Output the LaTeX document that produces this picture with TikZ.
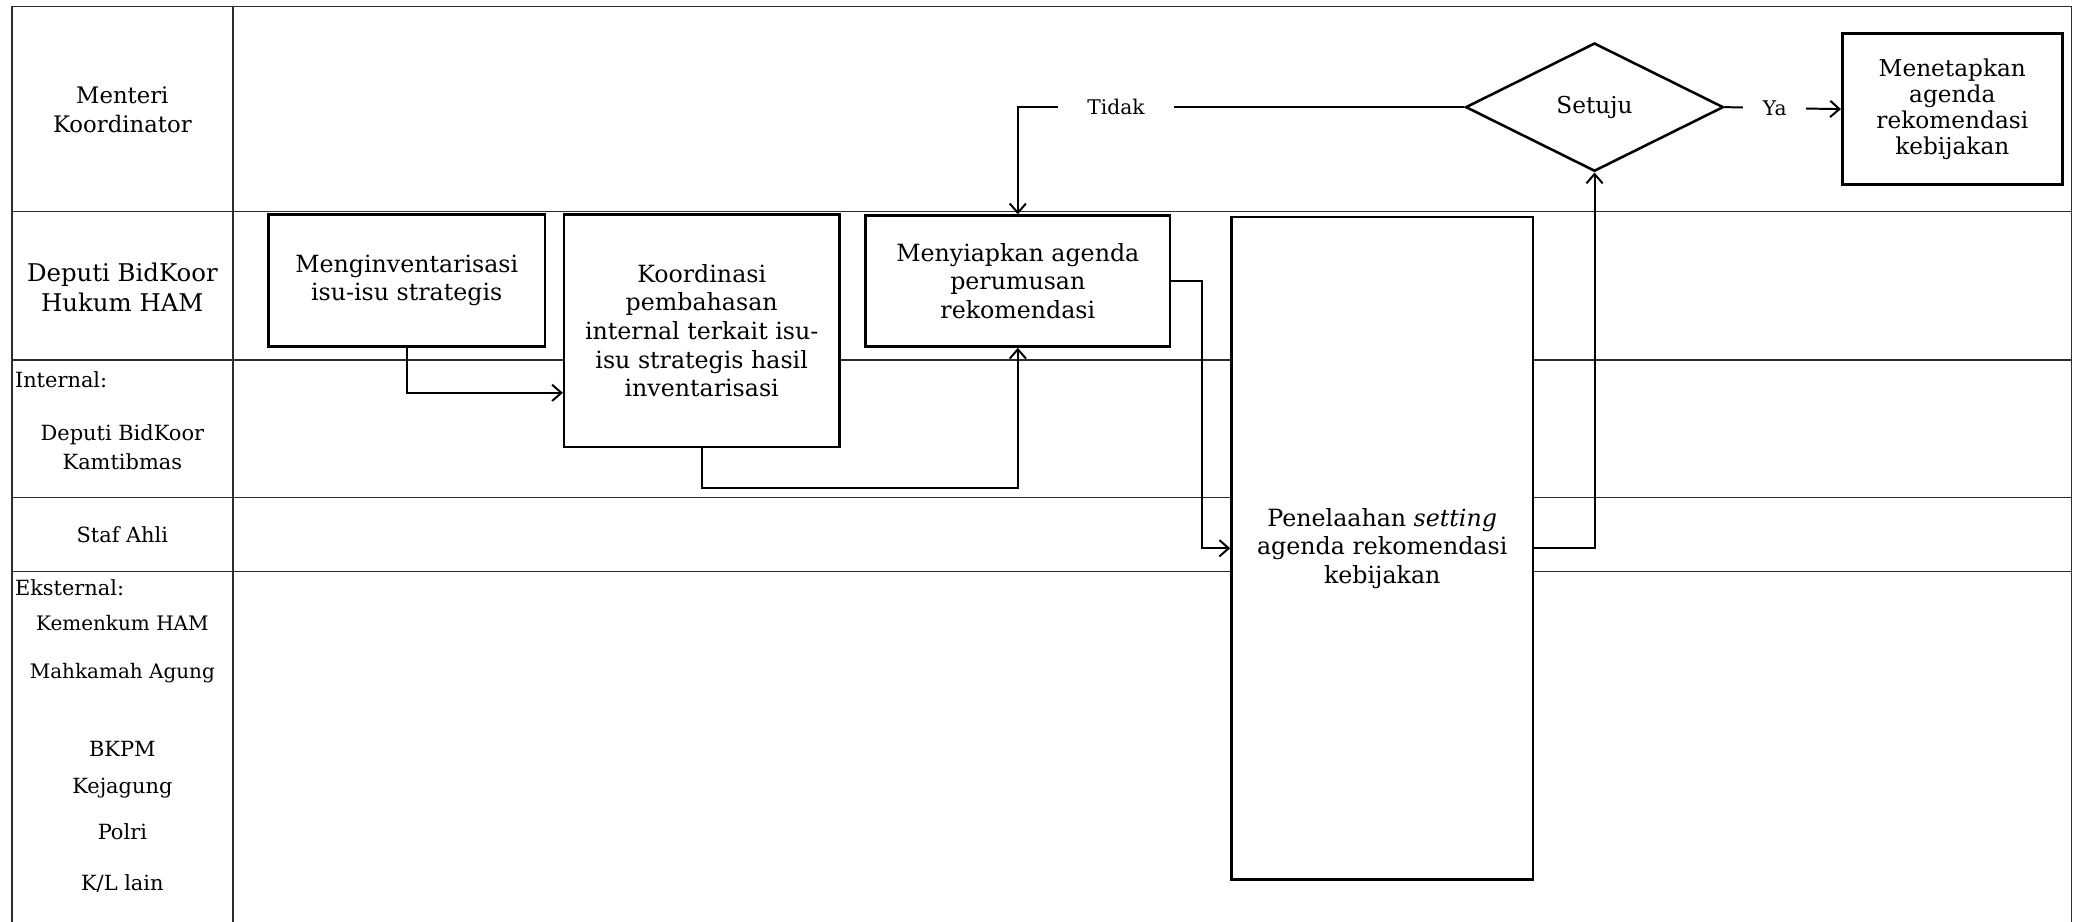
\documentclass[tikz,border=0pt]{standalone}
\usepackage{fontspec}
\setmainfont{DejaVu Serif}
\usetikzlibrary{positioning, arrows.meta, shapes.geometric}
\definecolor{abuGelap}{RGB}{45, 45, 45}

\begin{document}
\begin{tikzpicture}[x=0.02cm, y=-0.02cm,
    garis/.style={draw=abuGelap, line width=0.7pt},
    proses/.style={draw=black, line width=1.1pt, fill=white, align=center, inner sep=1pt, font=\fontsize{10.2}{12.3}\selectfont},
    keputusan/.style={diamond, draw=black, line width=1.1pt, fill=white, inner sep=0pt, minimum width=3.9cm, minimum height=1.94cm, font=\fontsize{10}{12}\selectfont},
    alur/.style={draw=black, line width=0.85pt, -{Straight Barb[length=4pt, width=7pt]}},
    jawab/.style={fill=white, inner ysep=1pt, font=\fontsize{8.7}{10}\selectfont},
    peran/.style={align=center, inner sep=0pt, font=\fontsize{9}{12.5}\selectfont}]
    \useasboundingbox (0,0) rectangle (1568,697);

    % Lanes
    \draw[garis] (9,697) -- (9,5) -- (1566,5) -- (1566,697);
    \draw[garis] (176,5) -- (176,697);
    \foreach \y in {160,272,376,432}
        \draw[garis] (9,\y) -- (1566,\y);

    % Lane Labels
    \node[peran, font=\fontsize{9.8}{12.7}\selectfont] (menko) at (92.5,83) {Menteri\\Koordinator};
    \node[peran, font=\fontsize{10.5}{13}\selectfont] (hukum) at (92.5,217) {Deputi BidKoor\\Hukum HAM};
    \node[peran, anchor=west] (internal) at (11,287) {Internal:};
    \node[peran] (kamtib) at (92.5,338) {Deputi BidKoor\\Kamtibmas};
    \node[peran] (stafahli) at (92.5,404.5) {Staf Ahli};
    \node[peran, anchor=west] (eksternal) at (11,444) {Eksternal:};
    \node[peran, font=\fontsize{8.6}{12}\selectfont] (kemenkum) at (92.5,471) {Kemenkum HAM};
    \node[peran, font=\fontsize{8.6}{12}\selectfont] (mahkamah) at (92.5,509) {Mahkamah Agung};
    \node[peran] (bkpm) at (92.5,566) {BKPM};
    \node[peran] (kejagung) at (92.5,596) {Kejagung};
    \node[peran] (polri) at (92.5,629) {Polri};
    \node[peran] (kllain) at (92.5,668) {K/L lain};

    % Process Boxes
    \node[proses, minimum width=4.18cm, minimum height=2cm] (inventaris) at (307.5,212) {Menginventarisasi\\isu-isu strategis};
    \node[proses, minimum width=4.16cm, minimum height=3.52cm] (koordinasi) at (530.5,250) {Koordinasi\\pembahasan\\internal terkait isu-\\isu strategis hasil\\inventarisasi};
    \node[proses, minimum width=4.6cm, minimum height=1.98cm] (siapkan) at (769.5,212.5) {Menyiapkan agenda\\perumusan\\rekomendasi};
    \node[proses, minimum width=4.56cm, minimum height=10.02cm] (telaah) at (1045,414.5) {Penelaahan \textit{setting}\\agenda rekomendasi\\kebijakan};
    \node[keputusan] (setuju) at (1205.5,81) {Setuju};
    \node[proses, minimum width=3.33cm, minimum height=2.28cm, font=\fontsize{10}{11.1}\selectfont] (tetapkan) at (1476,82.5) {Menetapkan\\agenda\\rekomendasi\\kebijakan};

    % Arrows
    \draw[alur] (inventaris.south) |- ([yshift=-0.94cm]koordinasi.west);
    \draw[alur] (koordinasi.south) -- ++(0,30) -| (siapkan.south);
    \draw[alur] (siapkan.east) -- ++(23,0) |- (telaah.west);
    \draw[alur] (telaah.east) -| (setuju.south);
    \draw[alur] (setuju.west) -| (siapkan.north) node[jawab, pos=0.39, inner xsep=0.45cm] {Tidak};
    \draw[alur] (setuju.east) -- (tetapkan.west) node[jawab, pos=0.43, inner xsep=0.3cm] {Ya};
\end{tikzpicture}
\end{document}
